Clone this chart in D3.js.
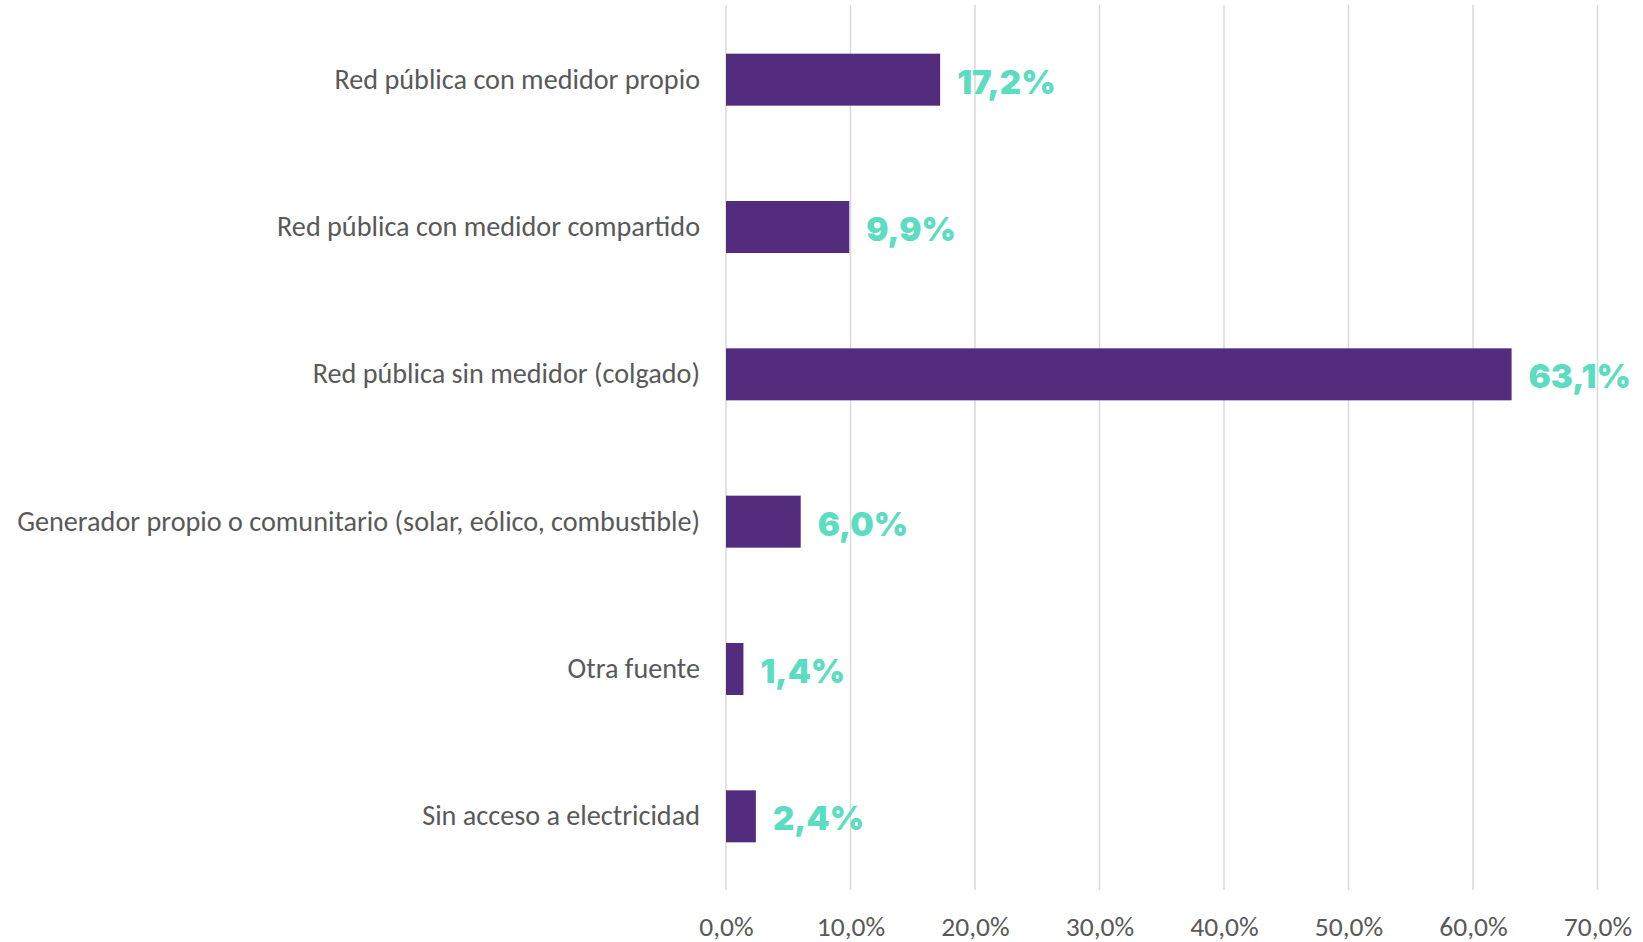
<!DOCTYPE html>
<html>
<head>
<meta charset="utf-8">
<script src="https://cdn.jsdelivr.net/npm/d3@7"></script>
<style>
body { margin: 0; background: #fff; }
.cat { font-family: "Carlito", "Calibri", "Liberation Sans Narrow", "Open Sans", sans-serif; fill: #595959; }
.tick text { font-family: "Carlito", "Calibri", "Liberation Sans Narrow", "Open Sans", sans-serif; fill: #595959; }
.val { font-family: "Inter", "Lato", sans-serif; font-weight: 900; fill: #5cdcc1; }
</style>
</head>
<body>
<script>
var width = 1643,
    height = 942;
var categories = [
    "Red pública con medidor propio",
    "Red pública con medidor compartido",
    "Red pública sin medidor (colgado)",
    "Generador propio o comunitario (solar, eólico, combustible)",
    "Otra fuente",
    "Sin acceso a electricidad"
];
var values = [17.2, 9.9, 63.1, 6.0, 1.4, 2.4];
var ticks = [0, 10, 20, 30, 40, 50, 60, 70];

function pct(v) {
    return v.toFixed(1).replace(".", ",") + "%";
}

var svg = d3.select("body").append("svg")
    .attr("width", width)
    .attr("height", height);

var x = d3.scaleLinear()
    .domain([0, 70])
    .range([726, 1597.5]);
var y = d3.scaleBand()
    .domain(categories)
    .range([6, 890])
    .paddingInner(0.647)
    .paddingOuter(0.3235);

// gridlines
svg.append("g")
    .selectAll("line")
    .data(ticks)
    .enter().append("line")
    .attr("x1", d => x(d))
    .attr("x2", d => x(d))
    .attr("y1", 5)
    .attr("y2", 890)
    .attr("stroke", "#d9d9d9")
    .attr("stroke-width", 1.5);

// x axis labels
var axis = d3.axisBottom(x)
    .tickValues(ticks)
    .tickSize(0)
    .tickPadding(0)
    .tickFormat(pct);
var gx = svg.append("g")
    .attr("transform", "translate(0,910)")
    .call(axis);
gx.select(".domain").remove();
gx.selectAll("text")
    .attr("dy", "26")
    .style("font-size", "27.5px");

// bars
svg.append("g")
    .selectAll("rect")
    .data(values)
    .enter().append("rect")
    .attr("x", x(0))
    .attr("y", (d, i) => y(categories[i]))
    .attr("width", d => x(d) - x(0))
    .attr("height", y.bandwidth())
    .attr("fill", "#542c7e");

// category labels
svg.append("g")
    .selectAll("text")
    .data(categories)
    .enter().append("text")
    .attr("class", "cat")
    .attr("x", 700)
    .attr("y", d => y(d) + y.bandwidth() / 2 - 1)
    .attr("dy", "0.35em")
    .attr("text-anchor", "end")
    .style("font-size", "28.2px")
    .text(d => d);

// value labels
svg.append("g")
    .selectAll("text")
    .data(values)
    .enter().append("text")
    .attr("class", "val")
    .attr("x", d => x(d) + 17)
    .attr("y", (d, i) => y(categories[i]) + y.bandwidth() / 2 + 2)
    .attr("dy", "0.36em")
    .style("font-size", "33px")
    .text(pct);
</script>
</body>
</html>
